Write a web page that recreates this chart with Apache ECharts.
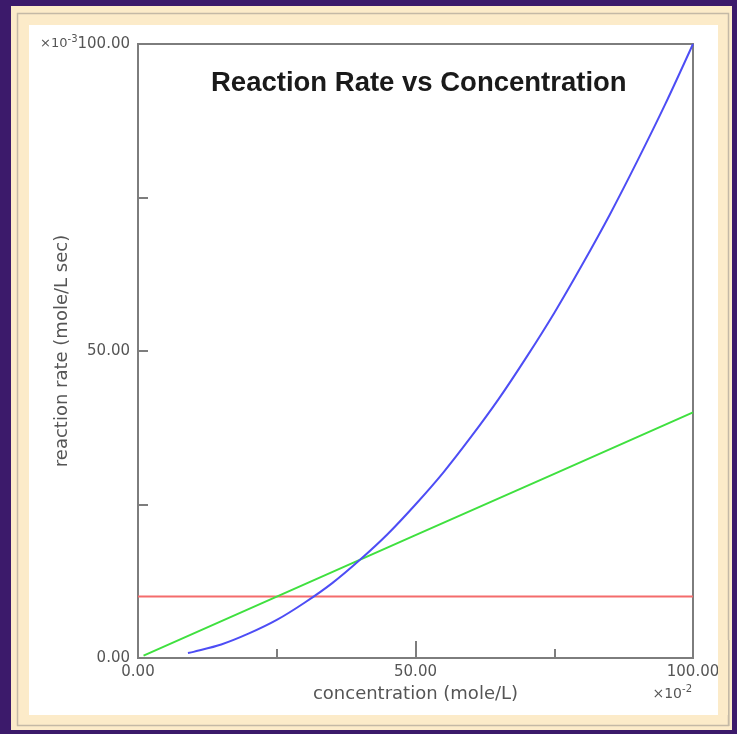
<!DOCTYPE html>
<html>
<head>
<meta charset="utf-8">
<script src="https://cdn.jsdelivr.net/npm/echarts@6/dist/echarts.min.js"></script>
<style>html,body{margin:0;padding:0;background:#3c1a6b;}#c{width:737px;height:734px;}</style>
</head>
<body>
<div id="c"></div>
<script>
// Data (x in 10^-2 mole/L, y in 10^-3 mole/(L sec))
const xTicks = [0, 50, 100];
const yTicks = [0, 50, 100];
const zeroOrderX = [0, 100];
const zeroOrderY = [10, 10];
const firstOrderX = [1, 25, 50, 75, 100];
const firstOrderY = [0.4, 10, 20, 30, 40];
const secondOrderX = [9, 10, 15, 20, 25, 30, 35, 40, 45, 50, 55, 60, 65, 70, 75, 80, 85, 90, 95, 100];
const secondOrderY = [0.8, 1.0, 2.2, 4.0, 6.2, 9.0, 12.2, 16.0, 20.2, 25.0, 30.2, 36.0, 42.2, 49.0, 56.2, 64.0, 72.2, 81.0, 90.2, 100.0];

const pairs = (xs, ys) => xs.map((x, i) => [x, ys[i]]);

const chart = echarts.init(document.getElementById('c'));
const labelFont = 'DejaVu Sans';
chart.setOption({
  backgroundColor: '#3c1a6b',
  animation: false,
  title: {
    text: 'Reaction Rate vs Concentration',
    left: 206,
    top: 64,
    textStyle: { fontFamily: 'Liberation Sans', fontWeight: 'bold', fontSize: 27.5, color: '#1a1a1a' }
  },
  graphic: [
    { type: 'rect', z: -10, shape: { x: 11, y: 6, width: 721, height: 724 }, style: { fill: '#fcebc9' } },
    { type: 'rect', z: -9, shape: { x: 17.5, y: 13.5, width: 711, height: 712 }, style: { fill: 'none', stroke: '#c4b9a6', lineWidth: 1.5 } },
    { type: 'rect', z: -8, shape: { x: 29, y: 25, width: 689, height: 690 }, style: { fill: '#ffffff' } },
    { type: 'rect', z: 100, shape: { x: 718, y: 640, width: 10, height: 75 }, style: { fill: '#fcebc9' } },
    { type: 'rect', z: 101, shape: { x: 728, y: 640, width: 1.5, height: 86 }, style: { fill: '#c4b9a6' } },
    {
      type: 'text', z: 50, x: 692, y: 694,
      style: {
        text: '{b|×10}{s|-2}', align: 'right', verticalAlign: 'middle',
        rich: {
          b: { fontFamily: labelFont, fontSize: 14, fill: '#555' },
          s: { fontFamily: labelFont, fontSize: 10, fill: '#555', padding: [0, 0, 10, 0] }
        }
      }
    }
  ],
  grid: {
    left: 138, right: 44, top: 44, bottom: 76,
    show: true, backgroundColor: '#ffffff', borderColor: '#7d7d7d', borderWidth: 2
  },
  xAxis: {
    type: 'value', min: 0, max: 100, interval: 50,
    name: 'concentration (mole/L)', nameLocation: 'middle', nameGap: 24,
    nameTextStyle: { fontFamily: labelFont, fontSize: 18, color: '#555' },
    axisLine: { show: true, lineStyle: { color: '#7d7d7d', width: 2 } },
    axisTick: { show: true, inside: true, length: 17, lineStyle: { color: '#7d7d7d', width: 2 } },
    minorTick: { show: true, splitNumber: 2, length: 9, lineStyle: { color: '#7d7d7d', width: 2 } },
    splitLine: { show: false },
    axisLabel: {
      margin: 7, fontFamily: labelFont, fontSize: 15, color: '#555', showMinLabel: true, showMaxLabel: true,
      formatter: v => xTicks.includes(v) ? v.toFixed(2) : ''
    }
  },
  yAxis: {
    type: 'value', min: 0, max: 100, interval: 50,
    name: 'reaction rate (mole/L sec)', nameLocation: 'middle', nameGap: 67, nameMoveOverlap: false,
    nameTextStyle: { fontFamily: labelFont, fontSize: 18, color: '#555' },
    axisLine: { show: true, lineStyle: { color: '#7d7d7d', width: 2 } },
    axisTick: { show: true, inside: true, length: 10, lineStyle: { color: '#7d7d7d', width: 2 } },
    minorTick: { show: true, splitNumber: 2, length: 10, lineStyle: { color: '#7d7d7d', width: 2 } },
    splitLine: { show: false },
    axisLabel: {
      margin: 8, fontFamily: labelFont, fontSize: 15, color: '#555', showMinLabel: true, showMaxLabel: true,
      formatter: v => {
        if (!yTicks.includes(v)) return '';
        return v === 100 ? '{b|×10}{s|-3}' + v.toFixed(2) : v.toFixed(2);
      },
      rich: {
        b: { fontFamily: labelFont, fontSize: 13, color: '#555' },
        s: { fontFamily: labelFont, fontSize: 10, color: '#555', padding: [0, 0, 10, 0] }
      }
    }
  },
  series: [
    { type: 'line', data: pairs(zeroOrderX, zeroOrderY), showSymbol: false, lineStyle: { color: '#f46c6c', width: 2 }, z: 3 },
    { type: 'line', data: pairs(firstOrderX, firstOrderY), showSymbol: false, lineStyle: { color: '#3fe03f', width: 2 }, z: 4 },
    { type: 'line', data: pairs(secondOrderX, secondOrderY), showSymbol: false, smooth: 0.3, lineStyle: { color: '#4d4df5', width: 2 }, z: 5 }
  ]
});
</script>
</body>
</html>
